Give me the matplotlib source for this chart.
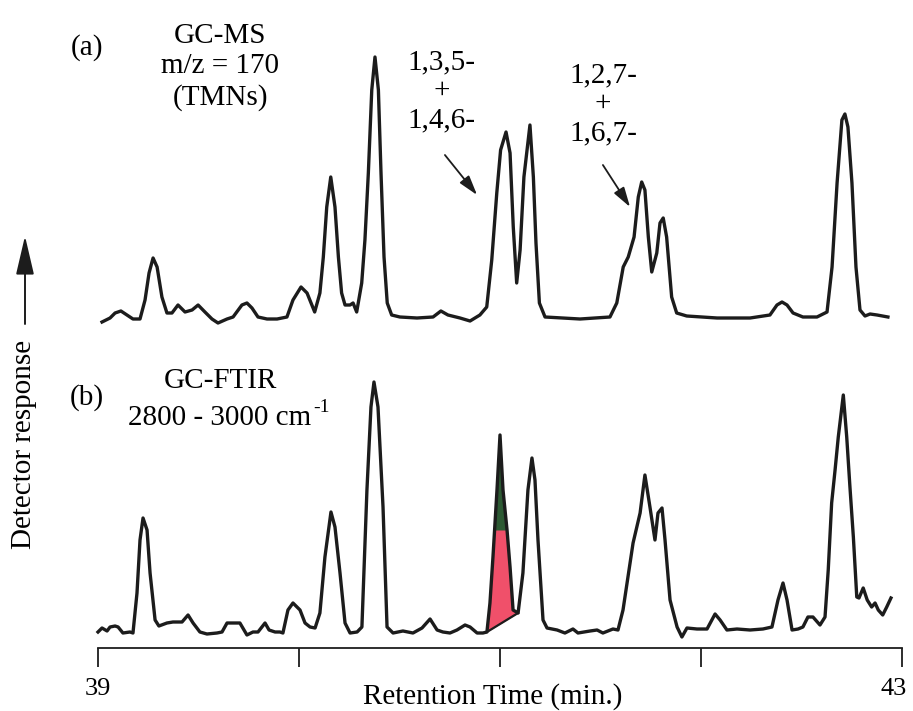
import numpy as np
import matplotlib
matplotlib.use("Agg")
import matplotlib.pyplot as plt
from matplotlib.transforms import ScaledTranslation

plt.rcParams['font.family'] = ['Liberation Serif', 'DejaVu Serif']

# ---------------- data ----------------
# (a) GC-MS, m/z = 170 : retention time (min) / detector response (a.u.)
ms_time = [39.020, 39.060, 39.085, 39.114, 39.144, 39.174, 39.209, 39.234, 39.254, 39.274,
           39.294, 39.318, 39.343, 39.368, 39.398, 39.433, 39.468, 39.498, 39.532, 39.567,
           39.597, 39.642, 39.672, 39.716, 39.741, 39.766, 39.796, 39.841, 39.891, 39.940,
           39.970, 40.010, 40.040, 40.078, 40.104, 40.121, 40.138, 40.158, 40.179, 40.196,
           40.212, 40.229, 40.254, 40.269, 40.287, 40.312, 40.328, 40.345, 40.362, 40.378,
           40.395, 40.408, 40.423, 40.439, 40.461, 40.502, 40.587, 40.667, 40.706, 40.741,
           40.801, 40.851, 40.900, 40.934, 40.959, 40.984, 41.003, 41.030, 41.050, 41.066,
           41.083, 41.100, 41.119, 41.149, 41.166, 41.179, 41.196, 41.224, 41.398, 41.547,
           41.581, 41.613, 41.638, 41.667, 41.688, 41.705, 41.721, 41.738, 41.755, 41.780,
           41.796, 41.812, 41.829, 41.854, 41.879, 41.929, 42.080, 42.244, 42.343, 42.378,
           42.403, 42.428, 42.458, 42.507, 42.577, 42.627, 42.652, 42.677, 42.701, 42.716,
           42.731, 42.751, 42.771, 42.791, 42.816, 42.841, 42.876, 42.930]
ms_resp = [-2, 2, 7, 9, 5, 1, 1, 20, 47, 62,
           53, 23, 7, 7, 15, 8, 10, 15, 8, 1,
           -3, 1, 3, 15, 17, 12, 3, 1, 1, 3,
           20, 33, 27, 8, 27, 63, 113, 143, 113, 63,
           27, 15, 15, 17, 8, 37, 80, 147, 230, 263,
           230, 147, 63, 17, 5, 3, 2, 3, 9, 5,
           2, -1, 5, 13, 60, 127, 170, 188, 167, 93,
           37, 70, 143, 195, 143, 77, 17, 3, 1, 3,
           17, 53, 63, 83, 123, 138, 130, 83, 48, 67,
           97, 102, 83, 23, 7, 4, 2, 2, 5, 15,
           18, 15, 7, 3, 3, 8, 53, 137, 200, 206,
           193, 137, 53, 10, 4, 6, 5, 3]

# (b) GC-FTIR, 2800 - 3000 cm-1 : retention time (min) / detector response (a.u.)
ftir_time = [39.000, 39.020, 39.045, 39.060, 39.085, 39.100, 39.124, 39.159, 39.174, 39.194,
             39.209, 39.224, 39.244, 39.259, 39.284, 39.303, 39.343, 39.373, 39.418, 39.448,
             39.473, 39.507, 39.542, 39.592, 39.617, 39.642, 39.672, 39.706, 39.741, 39.771,
             39.796, 39.831, 39.851, 39.881, 39.905, 39.920, 39.945, 39.970, 40.005, 40.030,
             40.055, 40.080, 40.104, 40.129, 40.159, 40.179, 40.204, 40.229, 40.254, 40.289,
             40.313, 40.338, 40.358, 40.373, 40.393, 40.418, 40.438, 40.468, 40.517, 40.567,
             40.612, 40.652, 40.687, 40.716, 40.751, 40.786, 40.826, 40.851, 40.886, 40.915,
             40.935, 40.950, 40.965, 40.985, 41.000, 41.015, 41.035, 41.050, 41.065, 41.090,
             41.114, 41.139, 41.159, 41.174, 41.189, 41.214, 41.234, 41.284, 41.323, 41.363,
             41.388, 41.448, 41.483, 41.512, 41.562, 41.587, 41.612, 41.662, 41.697, 41.721,
             41.746, 41.771, 41.786, 41.806, 41.821, 41.846, 41.881, 41.905, 41.930, 41.980,
             42.030, 42.070, 42.095, 42.129, 42.179, 42.244, 42.308, 42.353, 42.383, 42.408,
             42.428, 42.453, 42.483, 42.507, 42.532, 42.557, 42.592, 42.617, 42.633, 42.650,
             42.667, 42.683, 42.708, 42.725, 42.741, 42.758, 42.775, 42.786, 42.807, 42.827,
             42.849, 42.866, 42.882, 42.904, 42.924, 42.945]
ftir_resp = [1, 5, 2, 6, 7, 6, 0, 1, 0, 40,
             93, 115, 103, 60, 13, 7, 10, 11, 11, 18,
             10, 1, -1, 0, 1, 10, 10, 10, -2, 1,
             1, 10, 3, 1, 1, 0, 23, 30, 23, 10,
             6, 5, 20, 76, 121, 106, 60, 10, 0, 1,
             6, 143, 226, 251, 226, 126, 6, 0, 2, 0,
             5, 14, 3, 1, 0, 3, 8, 6, 0, 0,
             1, 30, 76, 143, 198, 143, 103, 66, 23, 20,
             60, 143, 175, 153, 93, 13, 5, 3, 0, 4,
             0, 2, 3, 0, 4, 3, 23, 90, 120, 158,
             126, 93, 120, 125, 93, 33, 6, -4, 5, 4,
             4, 19, 13, 3, 4, 3, 4, 6, 33, 50,
             33, 3, 4, 6, 16, 16, 8, 16, 63, 130,
             163, 196, 238, 196, 146, 96, 36, 35, 45, 33,
             26, 30, 23, 18, 26, 35]

x_ticks = [39, 40, 41, 42, 43]
x_tick_labels = ["39", "", "", "", "43"]

# integrated (skimmed) peak of 1,3,5-/1,4,6- in the FTIR trace
skim_window = (40.930, 41.095)
split_level = 103

# ---------------- styles ----------------
W, H = 913, 711
LINE = '#1c1c1c'
RED = '#f0506a'
GREEN = '#2d5a33'
FS = 21

fig = plt.figure(figsize=(W / 100, H / 100), dpi=100)

def fx(px):
    return px / W

def fy(py):
    return 1 - py / H

# axes placement (pixel geometry of the reference)
left, right = fx(98), fx(902)
ax_a = fig.add_axes([left, fy(335), right - left, (335 - 40) / H])
ax_b = fig.add_axes([left, fy(648), right - left, (648 - 373) / H])

for ax in (ax_a, ax_b):
    ax.set_xlim(39, 43)
    ax.set_facecolor('none')
    for s in ax.spines.values():
        s.set_visible(False)
    ax.set_yticks([])
ax_a.set_ylim(-15, 280)
ax_b.set_ylim(-15, 260)
ax_a.set_xticks([])

# traces
ax_a.plot(ms_time, ms_resp, color=LINE, lw=2.4, solid_joinstyle='round', clip_on=False, zorder=3)
ax_b.plot(ftir_time, ftir_resp, color=LINE, lw=2.4, solid_joinstyle='round', clip_on=False, zorder=3)

# coloured integrated peak
tb = np.array(ftir_time)
hb = np.array(ftir_resp, dtype=float)
m = (tb >= skim_window[0]) & (tb <= skim_window[1])
ts, hs = tb[m], hb[m]
base = np.interp(ts, [ts[0], ts[-1]], [hs[0], hs[-1]])
ax_b.fill_between(ts, base, hs, color=RED, lw=0, zorder=1)
ax_b.fill_between(ts, split_level, hs, where=hs > split_level, interpolate=True,
                  color=GREEN, lw=0, zorder=2)
ax_b.plot([ts[0], ts[-1]], [hs[0], hs[-1]], color=LINE, lw=1.6, zorder=3)

# bottom x axis
ax_b.spines['bottom'].set_visible(True)
ax_b.spines['bottom'].set_linewidth(1.3)
ax_b.spines['bottom'].set_color(LINE)
ax_b.set_xticks(x_ticks)
ax_b.set_xticklabels(x_tick_labels)
ax_b.tick_params(axis='x', direction='out', length=13.5, width=1.3, color=LINE,
                 labelsize=19, pad=8)
last = ax_b.get_xticklabels()[-1]
last.set_transform(last.get_transform() + ScaledTranslation(-6 / 72, 0, fig.dpi_scale_trans))
ax_b.set_xlabel("Retention Time (min.)", fontsize=FS)
ax_b.xaxis.set_label_coords((493 - 98) / 804, -(683 - 648) / 275)

# y label with arrow
fig.text(fx(24), fy(444), "Detector response", rotation=90, ha='center', va='center', fontsize=FS)
ax_b.annotate("", xy=(fx(25), fy(236)), xytext=(fx(25), fy(324)),
              xycoords='figure fraction', textcoords='figure fraction',
              arrowprops=dict(arrowstyle='-|>,head_length=1.2,head_width=0.28',
                              mutation_scale=20, lw=1.4, color=LINE, shrinkA=0, shrinkB=0))

# panel labels
fig.text(fx(87), fy(48), "(a)", ha='center', va='center', fontsize=FS)
fig.text(fx(220), fy(67), "GC-MS\nm/z = 170\n(TMNs)", ha='center', va='center',
         fontsize=FS, linespacing=1.2, multialignment='center')
fig.text(fx(87), fy(398), "(b)", ha='center', va='center', fontsize=FS)
fig.text(fx(220), fy(381), "GC-FTIR", ha='center', va='center', fontsize=FS)
t_cm = fig.text(fx(220), fy(418), "2800 - 3000 cm", ha='center', va='center', fontsize=FS)
ax_b.annotate("-1", xy=(1, 1), xycoords=t_cm, xytext=(1, 4), textcoords='offset points',
              ha='left', va='top', fontsize=14)

# peak annotations
arrow_kw = dict(arrowstyle='-|>,head_length=1.0,head_width=0.3', mutation_scale=12,
                lw=1.3, color=LINE, shrinkA=0, shrinkB=0)
ax_a.text(40.711, 229, "1,3,5-\n+\n1,4,6-", ha='center', va='center', fontsize=FS,
          linespacing=1.15, multialignment='center')
ax_a.annotate("", xy=(40.886, 125), xytext=(40.726, 165), arrowprops=arrow_kw)
ax_a.text(41.512, 216, "1,2,7-\n+\n1,6,7-", ha='center', va='center', fontsize=FS,
          linespacing=1.15, multialignment='center')
ax_a.annotate("", xy=(41.647, 113), xytext=(41.512, 155), arrowprops=arrow_kw)

fig.savefig("out.png", dpi=100)
